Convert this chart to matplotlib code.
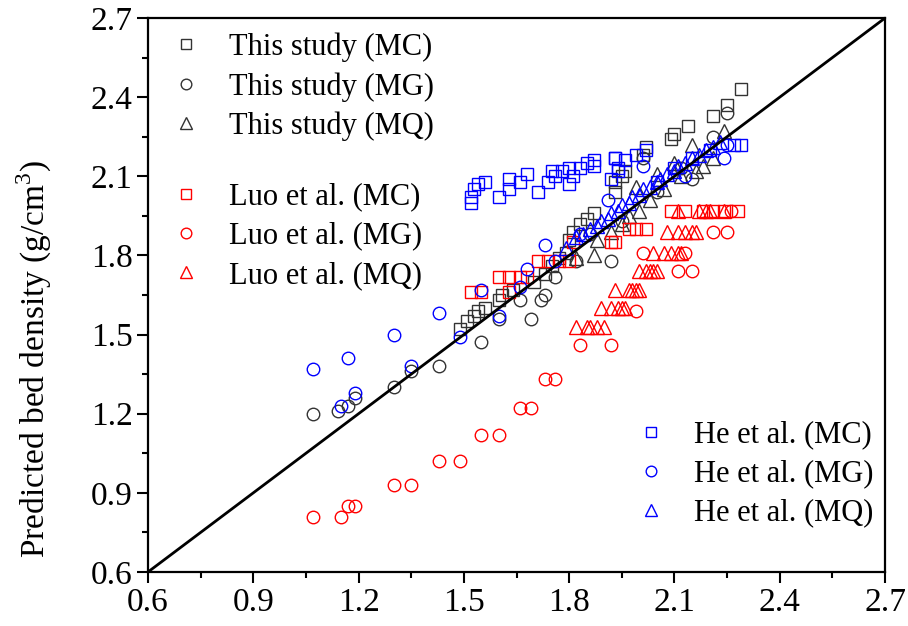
import matplotlib.pyplot as plt
import numpy as np

plt.rcParams['font.family'] = ['Liberation Serif', 'DejaVu Serif']
plt.rcParams['mathtext.fontset'] = 'custom'
plt.rcParams['mathtext.rm'] = 'Liberation Serif'

# this study
this_mc_x = [1.49, 1.51, 1.53, 1.54, 1.56, 1.60, 1.61, 1.64, 1.70, 1.73, 1.75, 1.77, 1.79, 1.80, 1.81,
             1.83, 1.85, 1.87, 1.93, 1.93, 1.95, 1.96, 2.01, 2.02, 2.09, 2.10, 2.14, 2.21, 2.25, 2.29]
this_mc_y = [1.52, 1.55, 1.57, 1.59, 1.60, 1.63, 1.65, 1.67, 1.70, 1.73, 1.76, 1.79, 1.81, 1.86, 1.89,
             1.92, 1.94, 1.96, 2.04, 2.08, 2.10, 2.12, 2.18, 2.21, 2.24, 2.26, 2.29, 2.33, 2.37, 2.43]

this_mg_x = [1.07, 1.14, 1.17, 1.19, 1.30, 1.35, 1.43, 1.55, 1.60, 1.66, 1.69, 1.72, 1.73, 1.76, 1.82,
             1.92, 1.86, 1.95, 2.01, 2.05, 2.12, 2.15, 2.21, 2.25]
this_mg_y = [1.20, 1.21, 1.23, 1.26, 1.30, 1.36, 1.38, 1.47, 1.56, 1.63, 1.56, 1.63, 1.65, 1.72, 1.78,
             1.78, 1.88, 1.93, 2.17, 2.04, 2.13, 2.09, 2.25, 2.34]

this_mq_x = [1.82, 1.87, 1.88, 1.92, 1.95, 1.97, 1.99, 2.00, 2.03, 2.05, 2.07, 2.10, 2.12, 2.15, 2.16,
             2.18, 2.21, 2.24]
this_mq_y = [1.79, 1.80, 1.86, 1.89, 1.92, 1.95, 2.06, 1.97, 2.01, 2.11, 2.05, 2.15, 2.10, 2.22, 2.12,
             2.14, 2.17, 2.27]

# Luo et al.
luo_mc_x = [1.52, 1.55, 1.63, 1.60, 1.63, 1.66, 1.68, 1.71, 1.74, 1.77, 1.80, 1.81, 1.92, 1.93,
            1.97, 1.99, 2.02, 2.09, 2.13, 2.18, 2.21, 2.24, 2.28]
luo_mc_y = [1.66, 1.66, 1.66, 1.72, 1.72, 1.72, 1.72, 1.78, 1.78, 1.78, 1.78, 1.85, 1.85, 1.85,
            1.90, 1.90, 1.90, 1.97, 1.97, 1.97, 1.97, 1.97, 1.97]

luo_mg_x = [1.07, 1.15, 1.17, 1.19, 1.30, 1.35, 1.43, 1.49, 1.55, 1.60, 1.66, 1.69, 1.73, 1.76,
            1.83, 1.92, 1.99, 2.01, 2.11, 2.13, 2.15, 2.21, 2.25, 2.26]
luo_mg_y = [0.81, 0.81, 0.85, 0.85, 0.93, 0.93, 1.02, 1.02, 1.12, 1.12, 1.22, 1.22, 1.33, 1.33,
            1.46, 1.46, 1.59, 1.81, 1.74, 1.81, 1.74, 1.89, 1.89, 1.97]

luo_mq_x = [1.82, 1.85, 1.86, 1.88, 1.90,
            1.89, 1.92, 1.94, 1.95, 1.96,
            1.93, 1.97, 1.98, 1.99, 2.00,
            2.00, 2.02, 2.03, 2.04, 2.05,
            2.04, 2.07, 2.09, 2.11, 2.12,
            2.08, 2.11, 2.13, 2.15, 2.16,
            2.11, 2.17, 2.19, 2.20, 2.24]
luo_mq_y = [1.53] * 5 + [1.60] * 5 + [1.67] * 5 + [1.74] * 5 + [1.81] * 5 + [1.89] * 5 + [1.97] * 5

# He et al.
he_mc_x = [1.52, 1.52, 1.53, 1.54, 1.56, 1.60, 1.63, 1.63, 1.66, 1.68, 1.71, 1.74, 1.75, 1.76, 1.78,
           1.80, 1.81, 1.80, 1.83, 1.85, 1.87, 1.87, 1.93, 1.94, 1.92, 1.93, 1.96, 1.99, 2.02, 1.94,
           2.05, 2.10, 2.15, 2.20, 2.27, 2.29]
he_mc_y = [2.00, 2.02, 2.05, 2.07, 2.08, 2.02, 2.05, 2.09, 2.08, 2.11, 2.04, 2.08, 2.12, 2.10, 2.12,
           2.07, 2.10, 2.13, 2.13, 2.15, 2.16, 2.14, 2.17, 2.13, 2.09, 2.17, 2.16, 2.18, 2.20, 2.12,
           2.08, 2.13, 2.17, 2.20, 2.22, 2.22]

he_mg_x = [1.07, 1.15, 1.17, 1.19, 1.30, 1.35, 1.43, 1.49, 1.55, 1.60, 1.66, 1.68, 1.73, 1.76, 1.83,
           1.91, 2.01, 2.13, 2.24, 2.25]
he_mg_y = [1.37, 1.23, 1.41, 1.28, 1.50, 1.38, 1.58, 1.49, 1.67, 1.57, 1.68, 1.75, 1.84, 1.78, 1.88,
           2.01, 2.14, 2.10, 2.17, 2.22]

he_mq_x = [1.79, 1.82, 1.84, 1.86, 1.88, 1.89, 1.91, 1.92, 1.94, 1.95, 1.97, 1.98, 2.00, 2.01, 2.03,
           2.05, 2.06, 2.08, 2.10, 2.11, 2.13, 2.15, 2.17, 2.19, 2.21, 2.23]
he_mq_y = [1.83, 1.87, 1.88, 1.90, 1.91, 1.93, 1.94, 1.96, 1.97, 1.99, 2.00, 2.02, 2.03, 2.05, 2.06,
           2.08, 2.09, 2.11, 2.12, 2.14, 2.15, 2.17, 2.18, 2.20, 2.21, 2.23]

ticks = [0.6, 0.9, 1.2, 1.5, 1.8, 2.1, 2.4, 2.7]

fig = plt.figure(figsize=(9.08, 6.26), dpi=100)
ax = fig.add_axes([0.163, 0.0863, 0.8117, 0.8849])


def pts(x, y, m, c, ms):
    line, = ax.plot(x, y, linestyle='none', marker=m, markersize=ms, markerfacecolor='none',
                    markeredgecolor=c, markeredgewidth=1.0)
    return line


k = '#333333'
a1 = pts(this_mc_x, this_mc_y, 's', k, 8)
a2 = pts(this_mg_x, this_mg_y, 'o', k, 9)
a3 = pts(this_mq_x, this_mq_y, '^', k, 10)
b1 = pts(luo_mc_x, luo_mc_y, 's', 'red', 8)
b2 = pts(luo_mg_x, luo_mg_y, 'o', 'red', 9)
b3 = pts(luo_mq_x, luo_mq_y, '^', 'red', 10)
c1 = pts(he_mc_x, he_mc_y, 's', 'blue', 8)
c2 = pts(he_mg_x, he_mg_y, 'o', 'blue', 9)
c3 = pts(he_mq_x, he_mq_y, '^', 'blue', 10)

ax.plot([0.6, 2.7], [0.6, 2.7], color='black', linewidth=2)

ax.set_xlim(0.6, 2.7)
ax.set_ylim(0.6, 2.7)
ax.set_xticks(ticks)
ax.set_yticks(ticks)
ax.set_xticks(np.arange(0.75, 2.7, 0.3), minor=True)
ax.set_yticks(np.arange(0.75, 2.7, 0.3), minor=True)
ax.tick_params(which='both', direction='out', top=False, right=False, width=1.5, labelsize=24)
ax.tick_params(which='major', length=8, pad=3)
ax.tick_params(which='minor', length=4.5)
for s in ax.spines.values():
    s.set_linewidth(1.6)
ax.set_ylabel('Predicted bed density (g/cm$^3$)', fontsize=24)
ax.yaxis.set_label_coords(-0.127, 0.385)

kw = dict(frameon=False, fontsize=22, markerscale=0.85, handletextpad=1.0, labelspacing=0.33,
          handlelength=0.8, borderaxespad=0)
leg1 = ax.legend([a1, a2, a3], ['This study (MC)', 'This study (MG)', 'This study (MQ)'],
                 loc='upper left', bbox_to_anchor=(0.019, 0.996), **kw)
ax.add_artist(leg1)
leg2 = ax.legend([b1, b2, b3], ['Luo et al. (MC)', 'Luo et al. (MG)', 'Luo et al. (MQ)'],
                 loc='upper left', bbox_to_anchor=(0.019, 0.725), **kw)
ax.add_artist(leg2)
ax.legend([c1, c2, c3], ['He et al. (MC)', 'He et al. (MG)', 'He et al. (MQ)'],
          loc='upper left', bbox_to_anchor=(0.649, 0.296), **kw)

fig.savefig('out.png', dpi=100)
